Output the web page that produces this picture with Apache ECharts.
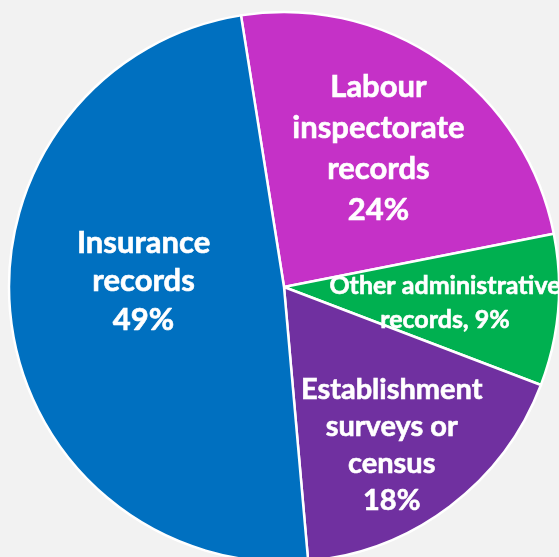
<!DOCTYPE html>
<html>
<head>
<meta charset="utf-8">
<script src="https://cdn.jsdelivr.net/npm/echarts@6/dist/echarts.min.js"></script>
<style>
html,body{margin:0;padding:0;background:#f2f2f2;}
#chart{width:559px;height:557px;}
</style>
</head>
<body>
<div id="chart"></div>
<script>
// Data (clockwise from the top)
const categories = ['Labour inspectorate records', 'Other administrative records', 'Establishment surveys or census', 'Insurance records'];
const labelTexts = ['Labour\ninspectorate\nrecords', 'Other administrative\nrecords,', 'Establishment\nsurveys or\ncensus', 'Insurance\nrecords'];
const shares = [24.4, 8.9, 17.8, 48.9];

const colors = ['#C531C7', '#00B050', '#7030A0', '#0070C0'];
const labelFont = [[31, 41], [25, 34], [29, 37], [31, 38.5]];
const labelShift = [[14, -23], [21, 4], [23, 46], [-1, -23]];

const chart = echarts.init(document.getElementById('chart'), null, {renderer: 'canvas'});
const total = shares.reduce((a, b) => a + b, 0);

chart.setOption({
  backgroundColor: '#f2f2f2',
  animation: false,
  series: [{
    type: 'pie',
    center: [284, 287],
    radius: [0, 275],
    startAngle: 99,
    clockwise: true,
    avoidLabelOverlap: false,
    data: categories.map((c, i) => ({
      name: c,
      value: shares[i],
      itemStyle: {color: colors[i]},
      label: {fontSize: labelFont[i][0], lineHeight: labelFont[i][1]}
    })),
    itemStyle: {borderColor: '#ffffff', borderWidth: 2.5},
    label: {
      show: true,
      position: 'inside',
      color: '#ffffff',
      fontFamily: 'Lato',
      fontWeight: 'bold',
      textBorderColor: '#ffffff',
      textBorderWidth: 0.6,
      align: 'center',
      formatter: function (p) {
        const pct = Math.round(p.value / total * 100) + '%';
        const t = labelTexts[p.dataIndex];
        return p.dataIndex === 1 ? t + ' ' + pct : t + '\n' + pct;
      }
    },
    labelLine: {show: false},
    labelLayout: function (p) {
      const s = labelShift[p.dataIndex];
      return {dx: s[0], dy: s[1]};
    }
  }]
});
</script>
</body>
</html>
